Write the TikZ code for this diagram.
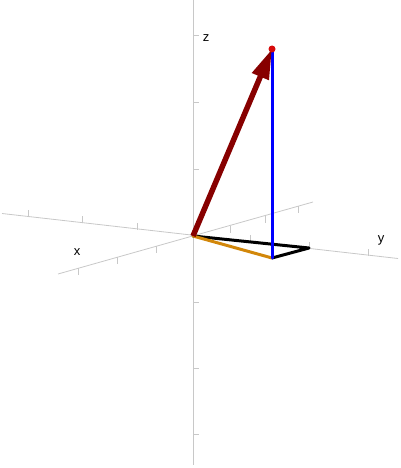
\documentclass[tikz,border=0pt]{standalone}
\usepackage{fontspec}
\setmainfont{Liberation Sans}
\usepackage{xcolor}
\usetikzlibrary{arrows.meta,positioning,calc}

\definecolor{axisgray}{RGB}{200,200,200}
\definecolor{vecred}{RGB}{135,0,0}
\definecolor{tipred}{RGB}{215,10,10}
\definecolor{projorange}{RGB}{210,135,10}

\tikzset{
  axisline/.style={axisgray,line width=0.8pt},
  tickline/.style={axisgray,line width=0.8pt},
  axislabel/.style={font=\fontsize{13}{15}\selectfont,inner sep=0pt},
  vecline/.style={line width=3pt,line cap=round,line join=round},
}

\begin{document}
\begin{tikzpicture}[x=1pt,y=-1pt]
  \useasboundingbox (0,0) rectangle (400,468);
  % axes
  \coordinate (O) at (193,236);
  \coordinate (zt) at (193,0);
  \coordinate (zb) at (193,465);
  \coordinate (yl) at (2,213.5);
  \coordinate (yr) at (398,258.5);
  \coordinate (xf) at (58,274);
  \coordinate (xb) at (313,202);
  \draw[axisline] (zt) -- (zb);
  \draw[axisline] (yl) -- (yr);
  \draw[axisline] (xf) -- (xb);
  % ticks
  \foreach \t in {35,102,169,302,368,434}
    \draw[tickline] (193,\t) -- ++(6,0);
  \foreach \t in {28,82,137,250,309,368}
    \draw[tickline] (\t,{236+0.1136*(\t-193)}) -- ++(0,-7);
  \foreach \t in {78,117,156,230,265,298}
    \draw[tickline] (\t,{236-0.2815*(\t-193)}) -- ++(0,7);
  \node[axislabel] (zlab) at (206,38) {z};
  \node[axislabel] (ylab) at (381,240) {y};
  \node[axislabel] (xlab) at (77,252) {x};
  % vector and its parts
  \coordinate (P) at (272,49);
  \coordinate (Q) at (272,258);
  \coordinate (R) at (309,248);
  \draw[vecline,black] (O) -- (R) -- (Q);
  \draw[vecline,projorange] (O) -- (Q);
  \draw[vecline,blue] (Q) -- (P);
  \draw[vecred,line width=5.5pt,-{Triangle[length=30pt,width=17pt]}] (O) -- (P);
  \fill[tipred] (P) circle (3.5);
\end{tikzpicture}
\end{document}
